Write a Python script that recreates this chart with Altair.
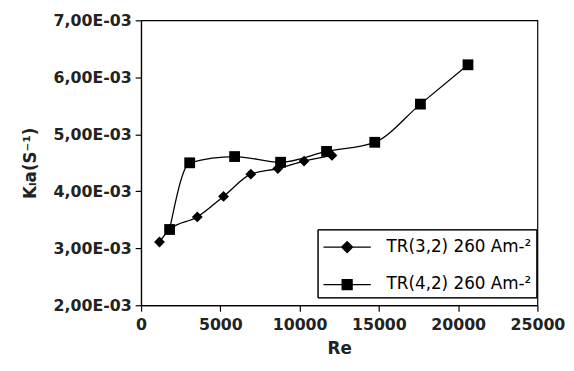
import altair as alt
import pandas as pd

series_a = "TR(3,2) 260 Am-²"
series_b = "TR(4,2) 260 Am-²"

re_a = [1160, 1800, 3545, 5200, 6920, 8625, 10280, 12040]
ka_a = [3.11e-3, 3.33e-3, 3.55e-3, 3.91e-3, 4.30e-3, 4.40e-3, 4.53e-3, 4.63e-3]

re_b = [1800, 3065, 5900, 8800, 11700, 14740, 17620, 20620]
ka_b = [3.33e-3, 4.50e-3, 4.61e-3, 4.51e-3, 4.70e-3, 4.86e-3, 5.53e-3, 6.22e-3]

x_ticks = [0, 5000, 10000, 15000, 20000, 25000]
y_ticks = [2e-3, 3e-3, 4e-3, 5e-3, 6e-3, 7e-3]

df = pd.DataFrame(
    {
        "Re": re_a + re_b,
        "Ka": ka_a + ka_b,
        "series": [series_a] * len(re_a) + [series_b] * len(re_b),
    }
)

FONT = "DejaVu Sans"

x = alt.X(
    "Re:Q",
    scale=alt.Scale(domain=[0, 25000], nice=False),
    axis=alt.Axis(
        values=x_ticks,
        title="Re",
        format="d",
        grid=False,
        tickSize=6,
        labelPadding=6,
        titlePadding=8,
        labelOverlap=False,
        labelFlush=False,
    ),
)
y = alt.Y(
    "Ka:Q",
    scale=alt.Scale(domain=[0.002, 0.007], nice=False, zero=False),
    axis=alt.Axis(
        values=y_ticks,
        title="Kₗa(S⁻¹)",
        grid=False,
        tickSize=6,
        labelPadding=4,
        titlePadding=14,
        labelOverlap=False,
        labelFlush=False,
        labelExpr="replace(format(datum.value*1000, '.2f'), '.', ',') + 'E-03'",
    ),
)

base = alt.Chart(df)

lines = base.mark_line(
    color="black", strokeWidth=1.3, interpolate="monotone"
).encode(x=x, y=y, detail="series:N")

points = base.mark_point(
    filled=True, color="black", opacity=1, size=120
).encode(
    x=x,
    y=y,
    shape=alt.Shape(
        "series:N",
        scale=alt.Scale(domain=[series_a, series_b], range=["diamond", "square"]),
        legend=None,
    ),
)

diamond_path = "M-2,0L2,0M0,-0.46L0.46,0L0,0.46L-0.46,0Z"
square_path = "M-2,0L2,0M-0.42,-0.42L0.42,-0.42L0.42,0.42L-0.42,0.42Z"


def legend_layer(filled, show_labels):
    return (
        base.transform_filter("false")
        .mark_point(filled=filled, color="black", strokeWidth=1.3, opacity=1, size=576)
        .encode(
            x=x,
            y=y,
            shape=alt.Shape(
                "series:N",
                scale=alt.Scale(
                    domain=[series_a, series_b], range=[diamond_path, square_path]
                ),
                legend=alt.Legend(
                    title=None,
                    orient="none",
                    legendX=179,
                    legendY=212,
                    padding=5,
                    strokeColor="black",
                    rowPadding=16,
                    symbolOffset=12,
                    labelOffset=27,
                    symbolSize=576,
                    symbolFillColor="black",
                    symbolStrokeColor="black",
                    symbolStrokeWidth=1.3,
                    symbolOpacity=1,
                    labelFont=FONT,
                    labelFontSize=17,
                    labelColor="black" if show_labels else "transparent",
                    labelLimit=400,
                ),
            ),
        )
    )


chart = (
    alt.layer(lines, points, legend_layer(False, True), legend_layer(True, False))
    .resolve_scale(shape="independent")
    .properties(
        width=402,
        height=289,
        autosize=alt.AutoSizeParams(type="none"),
        padding={"left": 135, "top": 10, "right": 29, "bottom": 54},
        background="white",
    )
    .configure_view(stroke="black", strokeWidth=1.2)
    .configure_axis(
        domainColor="black",
        domainWidth=1.2,
        tickColor="black",
        tickWidth=1.2,
        labelFont=FONT,
        labelFontSize=16,
        labelFontWeight="bold",
        labelColor="#222222",
        titleFont=FONT,
        titleFontSize=17,
        titleFontWeight="bold",
        titleColor="#222222",
    )
)

chart.save("out.html", embed_options={"renderer": "svg", "actions": False})
